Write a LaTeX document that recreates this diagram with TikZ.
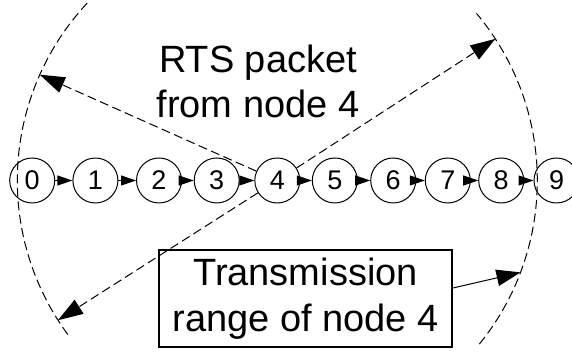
\documentclass[tikz,border=0pt]{standalone}
\usepackage{fontspec}
\setmainfont{Liberation Sans}
\usetikzlibrary{arrows.meta,calc}
\begin{document}
\begin{tikzpicture}[x=1pt,y=1pt,
  station/.style={circle,draw,line width=1pt,minimum size=45pt,inner sep=0pt,
    font=\fontsize{27}{32}\selectfont},
  hop/.style={line width=1pt,-{Triangle[length=15pt,width=10pt]}},
  rangeline/.style={line width=1pt,dash pattern=on 9pt off 4.5pt},
  rts/.style={rangeline,-{Triangle[length=25pt,width=16.5pt]}},
  bigtext/.style={font=\fontsize{38}{45.5}\selectfont,align=center},
]
\useasboundingbox (0,0) rectangle (572,352);

% chain of stations
\foreach \i/\x in {0/32.2,1/95.4,2/159,3/216.7,4/277.3,5/334.8,6/393.2,7/447.8,8/501.2,9/556.5}
  \node[station] (n\i) at (\x,171.5) {\i};
\foreach \a/\b in {0/1,1/2,2/3,3/4,4/5,5/6,6/7,7/8,8/9}
  \draw[hop] (n\a) -- (n\b);

% transmission range of node 4
\draw[rangeline] ($(n4.center)+(-39:260)$) arc[start angle=-39,end angle=40,radius=260];
\draw[rangeline] ($(n4.center)+(137:260)$) arc[start angle=137,end angle=217,radius=260];

\coordinate (tipA) at ($(n4.center)+(156:260)$);
\coordinate (tipB) at ($(n4.center)+(33:260)$);
\coordinate (tipC) at ($(n4.center)+(212.5:260)$);
\coordinate (tipR) at ($(n4.center)+(-20.7:260)$);

% RTS broadcast
\draw[rts] (n4) -- (tipA);
\draw[rts] (n4) -- (tipB);
\draw[rts] (n4) -- (tipC);

\node[bigtext] (rtslabel) at (258,270.6) {RTS packet\\from node 4};

\node[bigtext,draw,line width=2pt,minimum width=293pt,inner xsep=0pt,inner ysep=8.5pt]
  (rangebox) at (305.5,53.5) {Transmission\\range of node 4};
\draw[line width=1pt,-{Triangle[length=24pt,width=16.5pt]}]
  ([yshift=10.5pt]rangebox.east) -- (tipR);
\end{tikzpicture}
\end{document}
